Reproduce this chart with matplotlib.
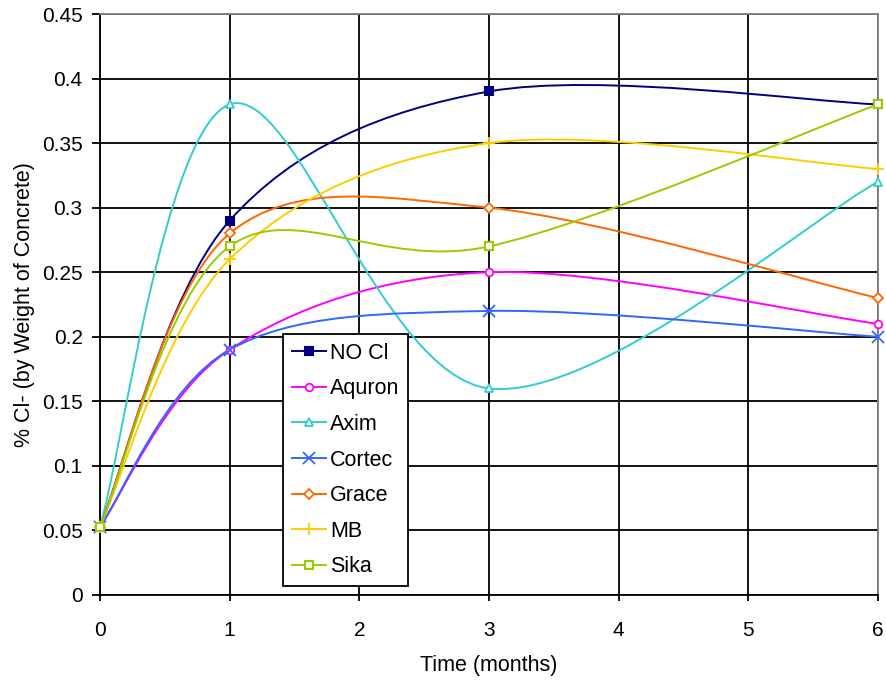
import matplotlib
matplotlib.use("Agg")
import matplotlib.pyplot as plt
from matplotlib.path import Path
from matplotlib.patches import PathPatch
from matplotlib.lines import Line2D
import numpy as np

plt.rcParams['font.family'] = ['Liberation Sans', 'DejaVu Sans']

months = [0, 1, 3, 6]
no_cl  = [0.053, 0.29, 0.39, 0.38]
aquron = [0.053, 0.19, 0.25, 0.21]
axim   = [0.053, 0.38, 0.16, 0.32]
cortec = [0.053, 0.19, 0.22, 0.20]
grace  = [0.053, 0.28, 0.30, 0.23]
mb     = [0.053, 0.26, 0.35, 0.33]
sika   = [0.053, 0.27, 0.27, 0.38]

series = [
    ("NO Cl", no_cl, "#000080", "s", True),
    ("Aquron", aquron, "#FF00FF", "o", False),
    ("Axim", axim, "#33CCCC", "^", False),
    ("Cortec", cortec, "#3366FF", "x", False),
    ("Grace", grace, "#FF6600", "D", False),
    ("MB", mb, "#FFCC00", "+", False),
    ("Sika", sika, "#99CC00", "s", False),
]

x_ticks = [0, 1, 2, 3, 4, 5, 6]
y_ticks = [0, 0.05, 0.1, 0.15, 0.2, 0.25, 0.3, 0.35, 0.4, 0.45]
y_tick_labels = ["0", "0.05", "0.1", "0.15", "0.2", "0.25", "0.3", "0.35", "0.4", "0.45"]


def smooth_path(xs, ys):
    P = np.column_stack([xs, ys]).astype(float)
    n = len(P)
    verts = [tuple(P[0])]
    codes = [Path.MOVETO]
    for i in range(n - 1):
        p0 = P[i - 1] if i > 0 else P[i]
        p1 = P[i]
        p2 = P[i + 1]
        p3 = P[i + 2] if i + 2 < n else P[i + 1]
        c1 = p1 + (p2 - p0) / 6.0
        c2 = p2 - (p3 - p1) / 6.0
        verts += [tuple(c1), tuple(c2), tuple(p2)]
        codes += [Path.CURVE4] * 3
    return Path(verts, codes)


fig = plt.figure(figsize=(8.87, 6.81), dpi=100)
ax = fig.add_axes([100 / 887, 1 - 595 / 681, 778 / 887, 581 / 681])

handles = []
for name, vals, col, mk, filled in series:
    patch = PathPatch(smooth_path(months, vals), facecolor='none', edgecolor=col,
                      lw=1.4, transform=ax.transData, zorder=3)
    ax.add_patch(patch)
    mfc = col if filled else 'white'
    if mk in ('x', '+'):
        ms, mew = 8, 1.3
    elif mk == 's':
        ms, mew = 5.5, 1.5
    else:
        ms, mew = 5.5, 1.3
    ax.plot(months, vals, linestyle='none', marker=mk, color=col, mfc=mfc,
            mec=col, ms=ms, mew=mew, zorder=4, clip_on=False)
    handles.append(Line2D([], [], color=col, lw=1.4, marker=mk, mfc=mfc,
                          mec=col, ms=ms, mew=mew))

ax.set_xlim(0, 6)
ax.set_ylim(0, 0.45)
ax.set_xticks(x_ticks)
ax.set_xticklabels([str(v) for v in x_ticks])
ax.set_yticks(y_ticks)
ax.set_yticklabels(y_tick_labels)
ax.grid(True, color='black', lw=1.3, zorder=1)
ax.set_axisbelow(True)
for s in ('top', 'right'):
    ax.spines[s].set_color('#808080')
    ax.spines[s].set_linewidth(1.3)
for s in ('left', 'bottom'):
    ax.spines[s].set_color('black')
    ax.spines[s].set_linewidth(1.3)
ax.tick_params(axis='y', direction='out', length=6, width=1.3, labelsize=15, pad=6.5, colors='black')
ax.tick_params(axis='x', direction='out', length=4.5, width=1.3, labelsize=15, pad=14, colors='black')

ax.set_xlabel("Time (months)", fontsize=15.5, labelpad=11)
ax.set_ylabel("% Cl- (by Weight of Concrete)", fontsize=15.5, labelpad=5)

leg = ax.legend(handles, [s[0] for s in series], loc='upper left',
                bbox_to_anchor=(283 / 887, 1 - 334 / 681), bbox_transform=fig.transFigure,
                borderaxespad=0, fontsize=15.5, frameon=True, fancybox=False,
                edgecolor='black', framealpha=1, handlelength=1.6, handletextpad=0.2,
                labelspacing=0.68, borderpad=0.4)
leg.get_frame().set_linewidth(1.3)
leg.set_zorder(10)

fig.savefig("out.png", dpi=100)
